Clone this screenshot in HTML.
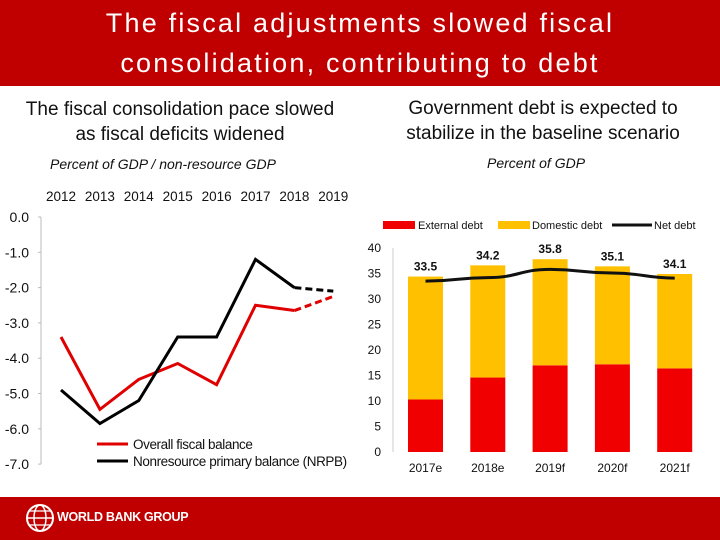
<!DOCTYPE html>
<html><head><meta charset="utf-8"><style>
body{margin:0;width:720px;height:540px;position:relative;background:#fff;font-family:"Liberation Sans",sans-serif;overflow:hidden}
.hdr{position:absolute;left:0;top:0;width:720px;height:86px;background:#c00000;color:#fff;font-size:27px;letter-spacing:2.2px;text-align:center;line-height:40px;padding-top:3px;box-sizing:border-box}
.sub{position:absolute;font-size:19px;text-align:center;color:#111;line-height:25px;white-space:nowrap}
.unit{position:absolute;font-size:14px;font-style:italic;color:#111}
.ftr{position:absolute;left:0;top:497px;width:720px;height:43px;background:#c00000}
</style></head><body>
<div class="hdr">The fiscal adjustments slowed fiscal<br>consolidation, contributing to debt</div>
<div class="sub" style="left:5px;top:97px;width:350px">The fiscal consolidation pace slowed<br>as fiscal deficits widened</div>
<div class="sub" style="left:368px;top:96px;width:350px">Government debt is expected to<br>stabilize in the baseline scenario</div>
<div class="unit" style="left:50px;top:156px">Percent of GDP / non-resource GDP</div>
<div class="unit" style="left:487px;top:155px">Percent of GDP</div>
<svg id="left" width="360" height="300" style="position:absolute;left:0;top:180px"></svg>
<svg id="right" width="360" height="280" style="position:absolute;left:360px;top:205px"></svg>
<div class="ftr">
<svg width="40" height="40" style="position:absolute;left:22px;top:2px"><circle cx="18" cy="19" r="13" fill="none" stroke="#fff" stroke-width="2"/><ellipse cx="18" cy="19" rx="6" ry="13" fill="none" stroke="#fff" stroke-width="1.5"/><line x1="5" y1="19" x2="31" y2="19" stroke="#fff" stroke-width="1.5"/><line x1="7" y1="12" x2="29" y2="12" stroke="#fff" stroke-width="1.2"/><line x1="7" y1="26" x2="29" y2="26" stroke="#fff" stroke-width="1.2"/></svg>
<div style="position:absolute;left:57px;top:13px;color:#fff;font-weight:bold;font-size:12.5px;letter-spacing:-0.3px">WORLD BANK GROUP</div>
</div>
<script>
const years=["2012","2013","2014","2015","2016","2017","2018","2019"];
const overall=[-3.4,-5.45,-4.6,-4.15,-4.75,-2.5,-2.65,-2.25];
const nrpb=[-4.9,-5.85,-5.2,-3.4,-3.4,-1.2,-2.0,-2.1];
const yTicksL=[0,-1,-2,-3,-4,-5,-6,-7];
const cats=["2017e","2018e","2019f","2020f","2021f"];
const external=[10.3,14.6,17.0,17.2,16.4];
const domestic=[24.1,22.0,20.8,19.2,18.5];
const net=[33.5,34.2,35.8,35.1,34.1];
const yTicksR=[0,5,10,15,20,25,30,35,40];
const NS="http://www.w3.org/2000/svg";
function mk(p,t,a,txt){const e=document.createElementNS(NS,t);for(const k in a)e.setAttribute(k,a[k]);if(txt!=null)e.textContent=txt;p.appendChild(e);return e;}
// left
const L=document.getElementById('left');
const lx=i=>61+i*38.9, ly=v=>37-v*35.3;
mk(L,'line',{x1:41,y1:ly(0),x2:41,y2:ly(-7),stroke:'#bbb'});
yTicksL.forEach(v=>{mk(L,'line',{x1:38,y1:ly(v),x2:41,y2:ly(v),stroke:'#bbb'});
const t=mk(L,'text',{x:29,y:ly(v)+5,'text-anchor':'end','font-size':14,fill:'#111'},v.toFixed(1));
});
years.forEach((y,i)=>{const t=mk(L,'text',{x:lx(i),y:21,'text-anchor':'middle','font-size':13.5,fill:'#111'},y);
});
function series(arr,col,name){
const solid=arr.slice(0,7).map((v,i)=>lx(i)+','+ly(v)).join(' ');
const p=mk(L,'polyline',{points:solid,fill:'none',stroke:col,'stroke-width':3});

const d=mk(L,'line',{x1:lx(6),y1:ly(arr[6]),x2:lx(7),y2:ly(arr[7]),stroke:col,'stroke-width':3,'stroke-dasharray':'7,4'});
}
series(overall,'#e00000','overall-balance');series(nrpb,'#000','nrpb');
mk(L,'line',{x1:97,y1:264,x2:128,y2:264,stroke:'#e00000','stroke-width':3});
mk(L,'text',{x:133,y:269,'font-size':13.5,'letter-spacing':-0.4,fill:'#111'},'Overall fiscal balance');
mk(L,'line',{x1:97,y1:281,x2:128,y2:281,stroke:'#000','stroke-width':3});
mk(L,'text',{x:133,y:286,'font-size':13.5,'letter-spacing':-0.4,fill:'#111'},'Nonresource primary balance (NRPB)');
// right
const R=document.getElementById('right');
const ry=v=>247-v*5.1, rx=i=>425.5-360+i*62.3;
mk(R,'line',{x1:33,y1:ry(0),x2:33,y2:ry(40),stroke:'#ccc'});
yTicksR.forEach(v=>{const t=mk(R,'text',{x:21,y:ry(v)+4,'text-anchor':'end','font-size':12,fill:'#111'},v);
});
cats.forEach((c,i)=>{
const b1=mk(R,'rect',{x:rx(i)-17.5,y:ry(external[i]),width:35,height:external[i]*5.1,fill:'#f00000'});

const tot=external[i]+domestic[i];
const b2=mk(R,'rect',{x:rx(i)-17.5,y:ry(tot),width:35,height:domestic[i]*5.1,fill:'#ffc000'});

const l=mk(R,'text',{x:rx(i),y:ry(Math.max(tot,net[i]))-6,'text-anchor':'middle','font-size':12,'font-weight':'bold',fill:'#111'},net[i].toFixed(1));

const t=mk(R,'text',{x:rx(i),y:267,'text-anchor':'middle','font-size':12,fill:'#111'},c);
});
let d='M'+rx(0)+','+ry(net[0]);
for(let i=1;i<net.length;i++){const x0=rx(i-1),x1=rx(i),m=(x0+x1)/2;d+=' C'+m+','+ry(net[i-1])+' '+m+','+ry(net[i])+' '+x1+','+ry(net[i]);}
const nl=mk(R,'path',{d:d,fill:'none',stroke:'#111','stroke-width':3});

mk(R,'rect',{x:23,y:16,width:32,height:8,fill:'#f00000'});
mk(R,'text',{x:58,y:24,'font-size':11,fill:'#111'},'External debt');
mk(R,'rect',{x:138,y:16,width:32,height:8,fill:'#ffc000'});
mk(R,'text',{x:172,y:24,'font-size':11,fill:'#111'},'Domestic debt');
mk(R,'line',{x1:252,y1:20,x2:292,y2:20,stroke:'#111','stroke-width':3});
mk(R,'text',{x:294,y:24,'font-size':11,fill:'#111'},'Net debt');
</script>
</body></html>
